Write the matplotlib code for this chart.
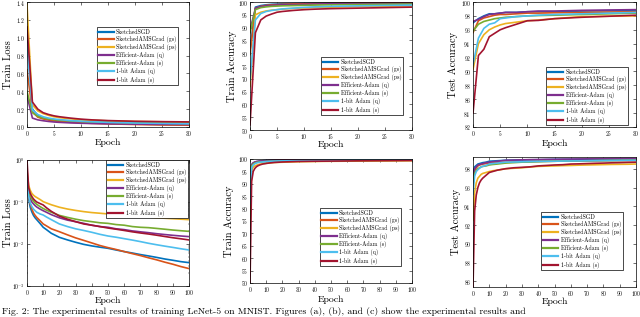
import matplotlib
matplotlib.use('Agg')
import matplotlib.pyplot as plt

plt.rcParams['font.family'] = ['cmr10', 'DejaVu Serif']
plt.rcParams['mathtext.fontset'] = 'cm'
plt.rcParams['axes.formatter.use_mathtext'] = True
plt.rcParams['xtick.direction'] = 'in'
plt.rcParams['ytick.direction'] = 'in'

names = ['SketchedSGD', 'SketchedAMSGrad (gs)', 'SketchedAMSGrad (ps)',
         'Efficient-Adam (q)', 'Efficient-Adam (s)', '1-bit Adam (q)', '1-bit Adam (s)']
colors = ['#0072BD', '#D95319', '#EDB120', '#7E2F8E', '#77AC30', '#4DBEEE', '#A2142F']

# ---- 30 epoch runs ----
ep30 = [0, 1, 2, 3, 4, 5, 6, 8, 10, 12, 15, 20, 25, 30]

loss30 = [
    [1.03, 0.20, 0.13, 0.10, 0.085, 0.075, 0.068, 0.058, 0.050, 0.045, 0.040, 0.033, 0.028, 0.025],
    [0.64, 0.17, 0.11, 0.09, 0.078, 0.068, 0.062, 0.053, 0.046, 0.041, 0.035, 0.028, 0.023, 0.020],
    [1.37, 0.25, 0.18, 0.15, 0.13, 0.115, 0.105, 0.092, 0.082, 0.076, 0.069, 0.062, 0.058, 0.055],
    [0.35, 0.10, 0.08, 0.07, 0.062, 0.056, 0.052, 0.046, 0.042, 0.039, 0.036, 0.032, 0.030, 0.028],
    [0.40, 0.16, 0.12, 0.10, 0.09, 0.082, 0.076, 0.068, 0.062, 0.058, 0.053, 0.047, 0.043, 0.040],
    [0.93, 0.19, 0.14, 0.115, 0.10, 0.09, 0.083, 0.072, 0.064, 0.059, 0.052, 0.045, 0.040, 0.036],
    [1.12, 0.28, 0.20, 0.16, 0.14, 0.125, 0.115, 0.10, 0.088, 0.080, 0.072, 0.064, 0.060, 0.057],
]

tracc30 = [
    [81.0, 98.0, 98.6, 98.9, 99.1, 99.2, 99.3, 99.4, 99.5, 99.6, 99.65, 99.7, 99.75, 99.8],
    [79.5, 97.6, 98.3, 98.7, 98.9, 99.0, 99.1, 99.25, 99.35, 99.45, 99.5, 99.6, 99.65, 99.7],
    [67.0, 95.0, 96.0, 96.5, 96.8, 97.0, 97.2, 97.5, 97.7, 97.85, 98.0, 98.2, 98.35, 98.5],
    [89.0, 97.5, 98.2, 98.5, 98.7, 98.8, 98.9, 99.0, 99.1, 99.2, 99.3, 99.4, 99.45, 99.5],
    [88.0, 97.0, 97.8, 98.1, 98.3, 98.4, 98.5, 98.6, 98.7, 98.8, 98.9, 99.0, 99.1, 99.2],
    [69.5, 93.0, 95.5, 96.3, 96.7, 97.0, 97.3, 97.6, 97.9, 98.1, 98.3, 98.5, 98.65, 98.8],
    [52.0, 88.0, 93.0, 94.5, 95.3, 96.0, 96.3, 96.7, 97.0, 97.2, 97.4, 97.6, 97.8, 98.0],
]

teacc30 = [
    [97.0, 97.6, 98.0, 98.3, 98.3, 98.4, 98.5, 98.5, 98.6, 98.6, 98.6, 98.7, 98.75, 98.8],
    [95.6, 97.3, 97.7, 97.9, 98.1, 98.2, 98.2, 98.3, 98.4, 98.4, 98.45, 98.5, 98.55, 98.6],
    [90.3, 94.0, 95.3, 96.0, 96.4, 96.7, 96.9, 97.1, 97.3, 97.4, 97.6, 97.9, 97.95, 98.0],
    [97.2, 97.5, 97.9, 98.2, 98.3, 98.4, 98.5, 98.5, 98.6, 98.7, 98.7, 98.8, 98.85, 98.9],
    [95.8, 96.8, 97.2, 97.4, 97.6, 97.7, 97.8, 97.9, 98.0, 98.05, 98.1, 98.2, 98.3, 98.4],
    [91.0, 94.8, 96.2, 96.8, 97.0, 97.6, 97.7, 97.9, 98.0, 98.1, 98.2, 98.3, 98.4, 98.5],
    [84.0, 92.3, 93.2, 95.0, 95.5, 96.0, 96.3, 96.8, 97.3, 97.35, 97.6, 97.8, 97.95, 98.1],
]

# ---- 100 epoch runs ----
ep100 = [0, 1, 2, 3, 4, 5, 6, 8, 10, 12, 15, 20, 25, 30, 35, 40, 45, 50,
         55, 60, 65, 70, 75, 80, 85, 90, 95, 100]

loss100 = [
    [0.3, 0.12, 0.075, 0.058, 0.048, 0.042, 0.038, 0.031, 0.025, 0.022, 0.018, 0.0144, 0.0125, 0.0110,
     0.0098, 0.0090, 0.0084, 0.0079, 0.0072, 0.0066, 0.0061, 0.0056, 0.0052, 0.0048, 0.0044, 0.0041, 0.0038, 0.0036],
    [0.45, 0.14, 0.09, 0.068, 0.055, 0.048, 0.043, 0.036, 0.030, 0.027, 0.023, 0.0196, 0.0165, 0.0140,
     0.0122, 0.0106, 0.0092, 0.0082, 0.0074, 0.0066, 0.0059, 0.0053, 0.0047, 0.0042, 0.0037, 0.0033, 0.0029, 0.0026],
    [0.55, 0.25, 0.19, 0.16, 0.145, 0.135, 0.128, 0.115, 0.102, 0.095, 0.086, 0.075, 0.068, 0.063,
     0.059, 0.056, 0.054, 0.052, 0.050, 0.048, 0.046, 0.045, 0.044, 0.042, 0.041, 0.040, 0.039, 0.038],
    [0.35, 0.16, 0.12, 0.10, 0.09, 0.082, 0.076, 0.068, 0.062, 0.057, 0.050, 0.042, 0.037, 0.034,
     0.031, 0.028, 0.026, 0.025, 0.023, 0.022, 0.0205, 0.0195, 0.0186, 0.0176, 0.0168, 0.0161, 0.0155, 0.015],
    [0.40, 0.19, 0.14, 0.118, 0.104, 0.095, 0.088, 0.078, 0.070, 0.064, 0.057, 0.048, 0.043, 0.039,
     0.036, 0.034, 0.032, 0.031, 0.029, 0.028, 0.026, 0.025, 0.0245, 0.0235, 0.0225, 0.0215, 0.0207, 0.020],
    [0.5, 0.14, 0.095, 0.078, 0.068, 0.062, 0.057, 0.052, 0.049, 0.044, 0.038, 0.030, 0.026, 0.023,
     0.021, 0.019, 0.017, 0.0155, 0.0145, 0.0134, 0.0124, 0.0114, 0.0104, 0.0096, 0.0089, 0.0083, 0.0077, 0.0072],
    [1.0, 0.22, 0.16, 0.135, 0.118, 0.108, 0.100, 0.092, 0.085, 0.073, 0.060, 0.046, 0.039, 0.034,
     0.030, 0.028, 0.026, 0.024, 0.0225, 0.021, 0.0195, 0.0183, 0.0173, 0.0162, 0.0151, 0.0141, 0.0133, 0.0125],
]

tracc100 = [
    [80.5, 97.5, 98.3, 98.7, 98.9, 99.0, 99.1, 99.3, 99.4, 99.5, 99.6, 99.7, 99.72, 99.75,
     99.78, 99.8, 99.82, 99.84, 99.85, 99.86, 99.87, 99.88, 99.89, 99.9, 99.9, 99.91, 99.92, 99.92],
    [79.0, 97.3, 98.2, 98.6, 98.8, 98.9, 99.0, 99.2, 99.3, 99.4, 99.5, 99.6, 99.65, 99.7,
     99.74, 99.78, 99.8, 99.82, 99.84, 99.86, 99.87, 99.88, 99.89, 99.9, 99.91, 99.92, 99.93, 99.94],
    [73.0, 95.5, 96.7, 97.2, 97.5, 97.7, 97.9, 98.1, 98.3, 98.4, 98.6, 98.7, 98.8, 98.9,
     98.95, 99.0, 99.05, 99.08, 99.1, 99.13, 99.15, 99.18, 99.2, 99.22, 99.24, 99.26, 99.28, 99.3],
    [88.0, 97.8, 98.5, 98.8, 99.0, 99.1, 99.2, 99.3, 99.35, 99.4, 99.45, 99.5, 99.53, 99.56,
     99.58, 99.6, 99.61, 99.62, 99.63, 99.64, 99.65, 99.66, 99.67, 99.68, 99.68, 99.69, 99.7, 99.7],
    [86.0, 97.2, 98.0, 98.4, 98.6, 98.7, 98.8, 98.9, 99.0, 99.05, 99.1, 99.2, 99.25, 99.3,
     99.32, 99.35, 99.37, 99.39, 99.4, 99.42, 99.43, 99.44, 99.45, 99.46, 99.47, 99.48, 99.49, 99.5],
    [82.0, 96.5, 97.6, 98.1, 98.4, 98.6, 98.7, 98.85, 98.95, 99.05, 99.15, 99.25, 99.3, 99.35,
     99.38, 99.42, 99.45, 99.47, 99.49, 99.51, 99.53, 99.54, 99.55, 99.56, 99.57, 99.58, 99.59, 99.6],
    [50.0, 91.0, 95.0, 96.2, 96.9, 97.3, 97.6, 98.0, 98.2, 98.4, 98.6, 98.8, 98.9, 99.0,
     99.05, 99.1, 99.13, 99.16, 99.19, 99.22, 99.25, 99.28, 99.3, 99.32, 99.34, 99.36, 99.38, 99.4],
]

teacc100 = [
    [97.5, 98.2, 98.35, 98.5, 98.55, 98.6, 98.65, 98.7, 98.8, 98.82, 98.85, 98.9, 98.92, 98.94,
     98.95, 98.96, 98.97, 99.0, 99.0, 99.0, 99.01, 99.02, 99.02, 99.03, 99.03, 99.04, 99.04, 99.05],
    [96.5, 97.8, 98.1, 98.3, 98.4, 98.45, 98.5, 98.55, 98.6, 98.63, 98.66, 98.7, 98.72, 98.74,
     98.76, 98.78, 98.79, 98.8, 98.81, 98.82, 98.83, 98.84, 98.85, 98.86, 98.87, 98.88, 98.89, 98.9],
    [92.5, 95.5, 96.5, 97.0, 97.2, 97.4, 97.5, 97.6, 97.7, 97.78, 97.85, 98.0, 98.05, 98.1,
     98.18, 98.25, 98.28, 98.3, 98.33, 98.35, 98.38, 98.4, 98.42, 98.44, 98.46, 98.47, 98.48, 98.5],
    [97.1, 98.0, 98.2, 98.4, 98.45, 98.5, 98.55, 98.65, 98.7, 98.75, 98.8, 98.9, 98.92, 98.95,
     98.97, 98.98, 99.0, 99.0, 99.02, 99.03, 99.04, 99.05, 99.06, 99.07, 99.08, 99.09, 99.1, 99.1],
    [96.8, 97.5, 97.8, 98.0, 98.1, 98.2, 98.25, 98.3, 98.4, 98.45, 98.5, 98.6, 98.65, 98.7,
     98.72, 98.75, 98.78, 98.8, 98.82, 98.83, 98.84, 98.85, 98.86, 98.87, 98.88, 98.89, 98.9, 98.9],
    [95.3, 97.2, 97.7, 97.9, 98.05, 98.2, 98.25, 98.35, 98.5, 98.55, 98.6, 98.7, 98.72, 98.74,
     98.76, 98.78, 98.79, 98.8, 98.82, 98.83, 98.84, 98.85, 98.86, 98.87, 98.88, 98.89, 98.9, 98.9],
    [85.4, 93.5, 95.2, 96.0, 96.5, 96.8, 97.0, 97.3, 97.6, 97.7, 97.85, 98.0, 98.1, 98.15,
     98.2, 98.3, 98.35, 98.4, 98.43, 98.5, 98.52, 98.55, 98.58, 98.6, 98.63, 98.65, 98.68, 98.7],
]

fig = plt.figure(figsize=(6.4, 3.17), dpi=100)

W, H = 640.0, 317.0
def rect(x0, x1, y0, y1):
    return [x0 / W, (H - y1) / H, (x1 - x0) / W, (y1 - y0) / H]

# rect, epochs, data, ylabel, xlim, ylim, xstep, ystep, legend anchor, ylabel x, xlabel y
panels = [
    (rect(27, 189, 2, 127), ep30, loss30, 'Train Loss', (0, 30), (0, 1.4), 5, None, (0.43, 0.80), -0.086, -0.096),
    (rect(250, 412, 2, 130), ep30, tracc30, 'Train Accuracy', (0, 30), (50, 100), 5, 5, (0.44, 0.57), -0.08, -0.085),
    (rect(473, 636, 2, 127), ep30, teacc30, 'Test Accuracy', (0, 30), (82, 100), 5, 2, (0.45, 0.48), -0.092, -0.1),
    (rect(27, 189, 160, 286), ep100, loss100, 'Train Loss', (0, 100), (1e-3, 1), 10, 'log', (0.49, 1.0), -0.086, -0.088),
    (rect(250, 412, 159, 283), ep100, tracc100, 'Train Accuracy', (0, 100), (50, 100), 10, 5, (0.43, 0.605), -0.099, -0.1),
    (rect(473, 636, 157, 287), ep100, teacc100, 'Test Accuracy', (0, 100), (85.4, 99.25), 10, 2, (0.42, 0.577), -0.074, -0.081),
]

for r, ep, series, ylab, xl, yl, xstep, ystep, legpos, ylx, xly in panels:
    ax = fig.add_axes(r)
    for vals, c, n in zip(series, colors, names):
        ax.plot(ep, vals, color=c, lw=1.2, label=n)
    ax.set_xlim(*xl)
    if ystep == 'log':
        ax.set_yscale('log')
    ax.set_ylim(*yl)
    ax.set_xticks(range(xl[0], xl[1] + 1, xstep))
    if ystep == 2:
        ax.set_yticks(range(int(yl[0]) + (int(yl[0]) % 2), int(yl[1]) + 1, 2))
    elif ystep == 5:
        ax.set_yticks(range(50, 101, 5))
    ax.tick_params(labelsize=4.0, length=2, width=0.4, top=True, right=True, pad=1.5)
    ax.tick_params(which='minor', length=1, width=0.3, top=True, right=True)
    for s in ax.spines.values():
        s.set_linewidth(0.5)
    ax.set_xlabel('Epoch', fontsize=7)
    ax.set_ylabel(ylab, fontsize=7.5)
    ax.yaxis.set_label_coords(ylx, 0.5)
    ax.xaxis.set_label_coords(0.5, xly)
    leg = ax.legend(loc='upper left', bbox_to_anchor=legpos, fontsize=4.2,
                    handlelength=2.6, handletextpad=0.4, labelspacing=0.2,
                    borderpad=0.3, borderaxespad=0, fancybox=False, framealpha=1)
    leg.get_frame().set_edgecolor('black')
    leg.get_frame().set_linewidth(0.5)
    for h in leg.get_lines():
        h.set_linewidth(1.6)

fig.text(0.003, (H - 307) / H, 'Fig. 2: The experimental results of training LeNet-5 on MNIST. '
         'Figures (a), (b), and (c) show the experimental results and',
         fontsize=7.0, ha='left', va='top')

fig.savefig('out.png', dpi=100)
